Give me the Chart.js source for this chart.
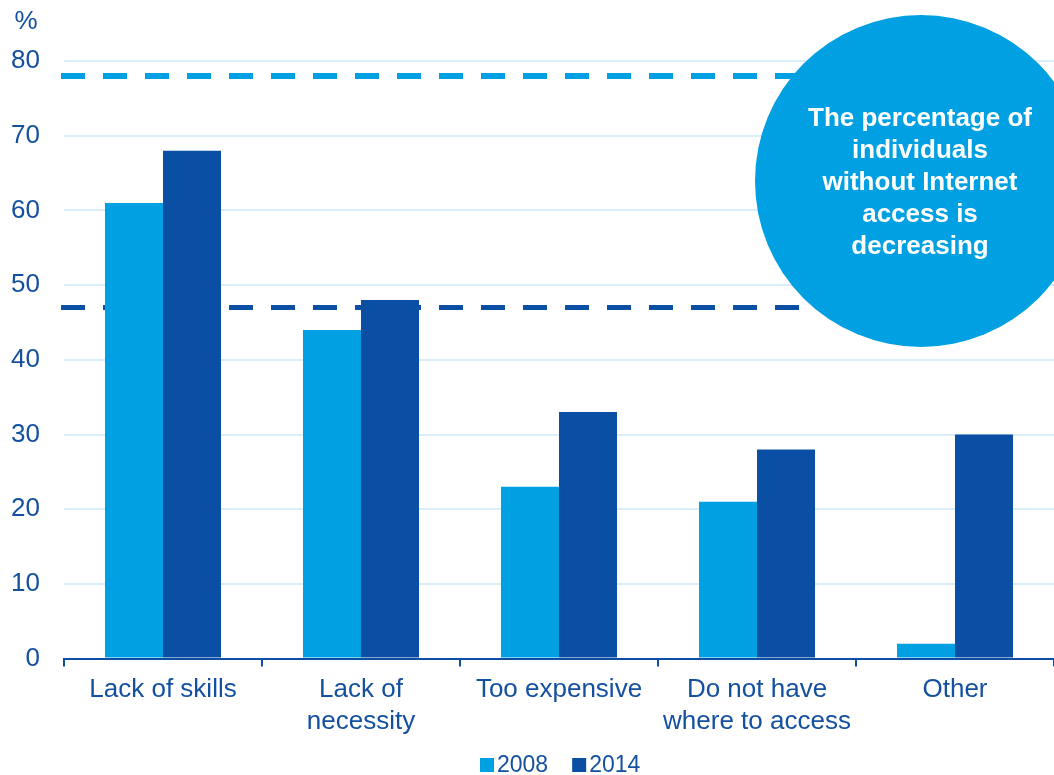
<!DOCTYPE html>
<html>
<head>
<meta charset="utf-8">
<script src="https://cdn.jsdelivr.net/npm/chart.js@4.4.0/dist/chart.umd.min.js"></script>
<style>
  html, body { margin: 0; padding: 0; background: #fff; }
  #wrap { width: 1054px; height: 775px; position: relative; }
</style>
</head>
<body>
<div id="wrap"><canvas id="chart"></canvas></div>
<script>
const categories = ['Lack of skills', ['Lack of', 'necessity'], 'Too expensive', ['Do not have', 'where to access'], 'Other'];
const years = ['2008', '2014'];
const values2008 = [61, 44, 23, 21, 2];
const values2014 = [68, 48, 33, 28, 30];
const yTicks = [0, 10, 20, 30, 40, 50, 60, 70, 80];
// reference levels shown as dashed lines
const level2008 = 78;
const level2014 = 47;
const noteLines = ['The percentage of', 'individuals', 'without Internet', 'access is', 'decreasing'];

const lightBlue = '#00a0e3';
const darkBlue = '#0a4fa3';
const textBlue = '#1450a0';
const gridBlue = '#daeef9';
const fontFamily = "'Liberation Sans', Arial, sans-serif";

const extras = {
    id: 'extras',
    beforeDatasetsDraw(chart) {
        const { ctx, chartArea, scales } = chart;
        ctx.save();
        ctx.setLineDash([24, 18]);
        [[level2008, lightBlue, 6], [level2014, darkBlue, 5]].forEach(([v, color, w]) => {
            const y = scales.y.getPixelForValue(v);
            ctx.strokeStyle = color;
            ctx.lineWidth = w;
            ctx.beginPath();
            ctx.moveTo(chartArea.left - 3, y);
            ctx.lineTo(900, y);
            ctx.stroke();
        });
        ctx.restore();
    },
    afterDraw(chart) {
        const { ctx } = chart;
        ctx.save();
        // unit label
        ctx.fillStyle = textBlue;
        ctx.font = '26px ' + fontFamily;
        ctx.textAlign = 'center';
        ctx.textBaseline = 'middle';
        ctx.fillText('%', 26, 22);

        // callout bubble
        ctx.fillStyle = lightBlue;
        ctx.beginPath();
        ctx.arc(921, 181, 166, 0, Math.PI * 2);
        ctx.fill();
        ctx.fillStyle = '#ffffff';
        ctx.font = 'bold 26px ' + fontFamily;
        noteLines.forEach((t, i) => ctx.fillText(t, 920, 119 + i * 32));

        // legend
        ctx.font = '23px ' + fontFamily;
        ctx.textAlign = 'left';
        let x = 480;
        chart.data.datasets.forEach(ds => {
            ctx.fillStyle = ds.backgroundColor;
            ctx.fillRect(x, 758, 14, 14);
            ctx.fillStyle = textBlue;
            ctx.fillText(ds.label, x + 17, 766);
            x += 17 + ctx.measureText(ds.label).width + 24;
        });
        ctx.restore();
    }
};

new Chart(document.getElementById('chart'), {
    type: 'bar',
    data: {
        labels: categories,
        datasets: [
            { label: years[0], data: values2008, backgroundColor: lightBlue },
            { label: years[1], data: values2014, backgroundColor: darkBlue }
        ]
    },
    options: {
        responsive: true,
        maintainAspectRatio: false,
        animation: false,
        layout: { padding: { top: 61, right: 0, bottom: 30, left: 0 } },
        datasets: {
            bar: { barPercentage: 1, categoryPercentage: 0.586 }
        },
        plugins: {
            legend: { display: false },
            tooltip: { enabled: false }
        },
        scales: {
            x: {
                grid: {
                    display: true,
                    drawOnChartArea: false,
                    color: darkBlue,
                    lineWidth: 2,
                    tickLength: 8,
                    offset: true
                },
                border: { display: true, color: darkBlue, width: 2 },
                ticks: {
                    color: textBlue,
                    font: { family: fontFamily, size: 26, lineHeight: 1.2 },
                    padding: 8,
                    maxRotation: 0,
                    autoSkip: false
                }
            },
            y: {
                min: 0,
                max: 80,
                afterBuildTicks(scale) {
                    scale.ticks = yTicks.map(v => ({ value: v }));
                },
                afterFit(scale) {
                    scale.width = 64;
                },
                grid: { color: gridBlue, lineWidth: 2, drawTicks: false },
                border: { display: false },
                ticks: {
                    color: textBlue,
                    font: { family: fontFamily, size: 26 },
                    padding: 24
                }
            }
        }
    },
    plugins: [extras]
});
</script>
</body>
</html>
